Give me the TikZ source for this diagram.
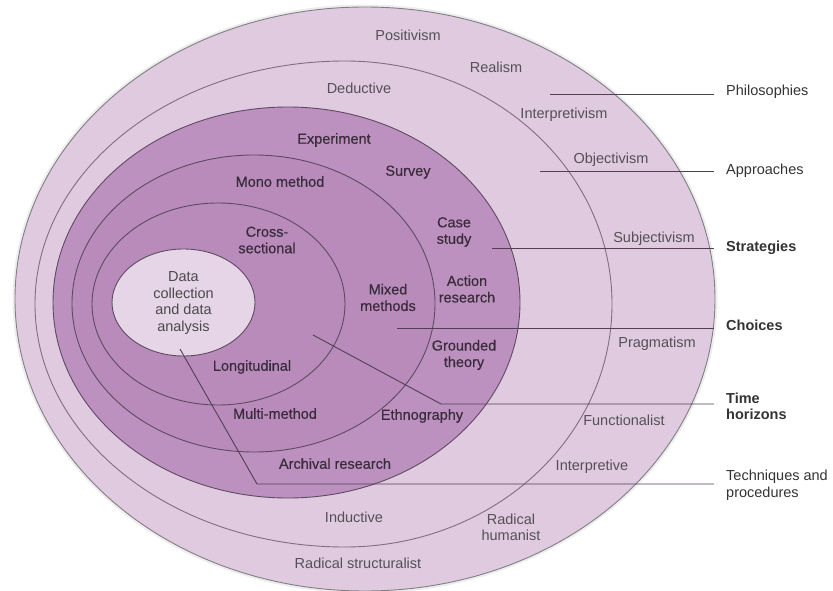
\documentclass[tikz,border=0pt]{standalone}
\usepackage{fontspec}
\setmainfont{Liberation Sans}
\newfontfamily\medfont[FakeBold=0.5]{Liberation Sans}
\definecolor{ringlight}{HTML}{DFCAE0}
\definecolor{ringmid}{HTML}{BC90BF}
\definecolor{ringdark}{HTML}{B88BBB}
\definecolor{core}{HTML}{E5D5E7}
\definecolor{edgeout}{HTML}{808083}
\definecolor{edgein}{HTML}{5F4B61}
\definecolor{txtout}{HTML}{555055}
\definecolor{txtin}{HTML}{3A2C3C}
\definecolor{txtright}{HTML}{333333}
\tikzset{
  ring/.style={draw=edgein, line width=0.9pt},
  conn/.style={draw=edgein!85!black, line width=0.9pt},
  lbl/.style={inner sep=0pt, align=center, font=\fontsize{14.5}{16.5}\selectfont},
  one/.style={text height=10.5pt, text depth=3pt},
  outlbl/.style={lbl, text=txtout},
  inlbl/.style={lbl, text=txtin, font=\fontsize{14.5}{16.5}\selectfont\medfont},
  rlbl/.style={lbl, anchor=west, align=left, text=txtright},
  rbold/.style={rlbl, font=\fontsize{14.5}{16.5}\selectfont\bfseries}
}
\begin{document}
\begin{tikzpicture}[x=1pt,y=-1pt]
\useasboundingbox (0,0) rectangle (833,591);
% soft shadow
\draw[line width=5pt, black!7] (365,7) arc[start angle=90,end angle=450,x radius=350pt,y radius=292pt];
% 1 outer
\path[ring, draw=edgeout, fill=ringlight] (365,7) arc[start angle=90,end angle=270,x radius=350pt,y radius=292pt] arc[start angle=270,end angle=450,x radius=350pt,y radius=292pt] -- cycle;
% 2 approaches
\path[ring, draw=edgein!80, fill=ringlight] (345,61) arc[start angle=90,end angle=270,x radius=310pt,y radius=243pt] arc[start angle=270,end angle=450,x radius=267pt,y radius=243pt] -- cycle;
% 3 strategies
\path[ring, fill=ringmid] (288,107) arc[start angle=90,end angle=270,x radius=235pt,y radius=195.5pt] arc[start angle=270,end angle=450,x radius=232pt,y radius=195.5pt] -- cycle;
% 4 choices
\path[ring, fill=ringdark] (254,155) arc[start angle=90,end angle=270,x radius=182pt,y radius=148.5pt] arc[start angle=270,end angle=450,x radius=181pt,y radius=148.5pt] -- cycle;
% 5 time horizons
\path[ring, fill=ringdark] (218,203) arc[start angle=90,end angle=270,x radius=126pt,y radius=101pt] arc[start angle=270,end angle=450,x radius=127pt,y radius=101pt] -- cycle;
% 6 core
\path[ring, fill=core] (183.5,249) arc[start angle=90,end angle=270,x radius=71.5pt,y radius=53.5pt] arc[start angle=270,end angle=450,x radius=71.5pt,y radius=53.5pt] -- cycle;

% connector coordinates
\coordinate (phS) at (550,94);   \coordinate (phE) at (714,94);
\coordinate (apS) at (540,171);  \coordinate (apE) at (714,171);
\coordinate (stS) at (492,248);  \coordinate (stE) at (714,248);
\coordinate (chS) at (397,328);  \coordinate (chE) at (714,328);
\coordinate (thS) at (313,335);  \coordinate (thK) at (441,404); \coordinate (thE) at (714,404);
\coordinate (tpS) at (180,349);  \coordinate (tpK) at (257,484); \coordinate (tpE) at (714,484);
\draw[conn] (phS) -- (phE);
\draw[conn] (apS) -- (apE);
\draw[conn] (stS) -- (stE);
\draw[conn] (chS) -- (chE);
\draw[conn] (thS) -- (thK) -- (thE);
\draw[conn] (tpS) -- (tpK) -- (tpE);

% outer labels
\node[outlbl, one] (positivism) at (408,37) {Positivism};
\node[outlbl, one] (realism) at (496,69) {Realism};
\node[outlbl, one] (deductive) at (359,90) {Deductive};
\node[outlbl, one] (interpretivism) at (564,115) {Interpretivism};
\node[outlbl, one] (objectivism) at (611,160) {Objectivism};
\node[outlbl, one] (subjectivism) at (654,239) {Subjectivism};
\node[outlbl, one] (pragmatism) at (657,344) {Pragmatism};
\node[outlbl, one] (functionalist) at (624,422) {Functionalist};
\node[outlbl, one] (interpretive) at (592,467) {Interpretive};
\node[outlbl, one] (inductive) at (354,519) {Inductive};
\node[outlbl] (radhum) at (511,527.5) {Radical\\humanist};
\node[outlbl, one] (radstruct) at (358,565) {Radical structuralist};

% inner labels
\node[inlbl, one] (experiment) at (334,140) {Experiment};
\node[inlbl, one] (survey) at (408,172) {Survey};
\node[inlbl, one] (mono) at (280,183) {Mono method};
\node[inlbl] (cross) at (267,240) {Cross-\\sectional};
\node[inlbl] (casestudy) at (454,232) {Case\\study};
\node[inlbl] (action) at (467,289) {Action\\research};
\node[inlbl] (mixed) at (388,297.5) {Mixed\\methods};
\node[inlbl] (grounded) at (464,355) {Grounded\\theory};
\node[outlbl, text=txtout!90!black] (data) at (183.5,303) {Data\\collection\\and data\\analysis};
\node[inlbl, one] (longitudinal) at (252,367) {Longitudinal};
\node[inlbl, one] (multi) at (275,415) {Multi-method};
\node[inlbl, one] (ethno) at (422,416) {Ethnography};
\node[inlbl, one] (archival) at (335,465) {Archival research};

% right labels
\node[rlbl, one] (philosophies) at (726,92) {Philosophies};
\node[rlbl, one] (approaches) at (726,171) {Approaches};
\node[rbold, one] (strategies) at (726,248) {Strategies};
\node[rbold, one] (choices) at (726,327) {Choices};
\node[rbold] (timeh) at (726,406.5) {Time\\horizons};
\node[rlbl] (techniques) at (726,485) {Techniques and\\procedures};
\end{tikzpicture}
\end{document}
